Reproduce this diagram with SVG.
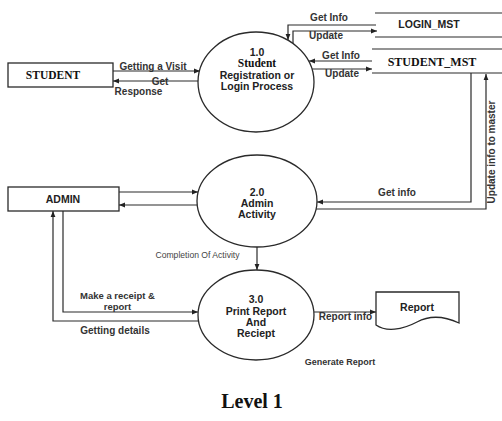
<svg xmlns="http://www.w3.org/2000/svg" width="502" height="421" viewBox="0 0 502 421">
<style>
.ln{fill:none;stroke:#2a2a2a;stroke-width:1.2}
.shape{fill:#fff;stroke:#2a2a2a;stroke-width:1.3}
.lbl{font-family:"Liberation Sans",Arial,sans-serif;font-weight:bold;font-size:10px;fill:#333;text-anchor:middle}
.pl{font-family:"Liberation Sans",Arial,sans-serif;font-weight:bold;font-size:10.5px;fill:#222;text-anchor:middle}
.ser{font-family:"Liberation Serif","Times New Roman",serif;font-weight:bold;fill:#111;text-anchor:middle}
.reg{font-family:"Liberation Sans",Arial,sans-serif;font-size:8.6px;fill:#444;text-anchor:middle}
</style>
<defs>
<marker id="ah" viewBox="0 0 10 10" refX="10" refY="5" markerWidth="6" markerHeight="6" markerUnits="userSpaceOnUse" orient="auto">
<path d="M0,1 L10,5 L0,9 z" fill="#222"/>
</marker>
</defs>
<rect width="502" height="421" fill="#fff"/>

<g id="connectors">
<path class="ln" d="M113,71 H200" marker-end="url(#ah)"/>
<path class="ln" d="M198,81 H113" marker-end="url(#ah)"/>
<path class="ln" d="M376,25 H288 V40" marker-end="url(#ah)"/>
<path class="ln" d="M293,43 V31 H377" marker-end="url(#ah)"/>
<path class="ln" d="M372,61 H309" marker-end="url(#ah)"/>
<path class="ln" d="M312,69 H372" marker-end="url(#ah)"/>
<path class="ln" d="M119,192 H198" marker-end="url(#ah)"/>
<path class="ln" d="M198,205 H119" marker-end="url(#ah)"/>
<path class="ln" d="M471,73 V202 H317" marker-end="url(#ah)"/>
<path class="ln" d="M316,209 H486 V74" marker-end="url(#ah)"/>
<path class="ln" d="M257,247 V270" marker-end="url(#ah)"/>
<path class="ln" d="M63,211 V312 H198" marker-end="url(#ah)"/>
<path class="ln" d="M198,321 H53 V211" marker-end="url(#ah)"/>
<path class="ln" d="M314,312 H376" marker-end="url(#ah)"/>
<text class="lbl" x="329" y="21">Get Info</text>
<text class="lbl" x="326" y="39">Update</text>
<text class="lbl" x="341" y="59">Get Info</text>
<text class="lbl" x="342" y="77">Update</text>
<text class="lbl" x="153" y="69.5">Getting a Visit</text>
<text class="lbl" x="160" y="85">Get</text>
<text class="lbl" x="138.5" y="95">Response</text>
<text class="lbl" x="397" y="196">Get info</text>
<text class="lbl" transform="translate(495,152) rotate(-90)">Update info to master</text>
<text class="reg" x="197.5" y="258">Completion Of Activity</text>
<text class="lbl" x="117.5" y="299" style="font-size:9.5px">Make a receipt &amp;</text>
<text class="lbl" x="117.5" y="309.5" style="font-size:9.5px">report</text>
<text class="lbl" x="115" y="334">Getting details</text>
<text class="lbl" x="345.5" y="320">Report info</text>
<text class="lbl" x="340" y="365" style="font-size:9px">Generate Report</text>
</g>

<g id="student">
<rect class="shape" x="8" y="63" width="105" height="24"/>
<text class="ser" x="53" y="79" font-size="11.5">STUDENT</text>
</g>

<g id="admin">
<rect class="shape" x="8" y="187" width="111" height="24"/>
<text class="pl" x="63" y="203" font-size="11">ADMIN</text>
</g>

<g id="p1">
<ellipse class="shape" cx="256" cy="82" rx="58" ry="50"/>
<text class="pl" x="257" y="55.5">1.0</text>
<text class="ser" x="257" y="67" font-size="11.5">Student</text>
<text class="pl" x="257" y="78.5">Registration or</text>
<text class="pl" x="257" y="90">Login Process</text>
</g>

<g id="p2">
<ellipse class="shape" cx="257" cy="201" rx="60" ry="46"/>
<text class="pl" x="257" y="196">2.0</text>
<text class="pl" x="257" y="207">Admin</text>
<text class="pl" x="257" y="218">Activity</text>
</g>

<g id="p3">
<ellipse class="shape" cx="256" cy="315" rx="58" ry="45"/>
<text class="pl" x="256" y="303">3.0</text>
<text class="pl" x="256" y="314.5">Print Report</text>
<text class="pl" x="256" y="326">And</text>
<text class="pl" x="256" y="337">Reciept</text>
</g>

<g id="login_mst">
<path class="ln" d="M375,13 H502 M375,37 H502"/>
<text class="pl" x="429" y="28" font-size="12">LOGIN_MST</text>
</g>

<g id="student_mst">
<path class="ln" d="M372,49 H502 M372,73 H502"/>
<text class="ser" x="432" y="66" font-size="12">STUDENT_MST</text>
</g>

<g id="report">
<path class="shape" d="M376,292 H459 V323 C444,316 430,315 417,322 C402,330 386,332 376,325 Z"/>
<text class="pl" x="417" y="311" font-size="14">Report</text>
</g>

<text class="ser" x="252" y="408" font-size="20">Level 1</text>
</svg>
